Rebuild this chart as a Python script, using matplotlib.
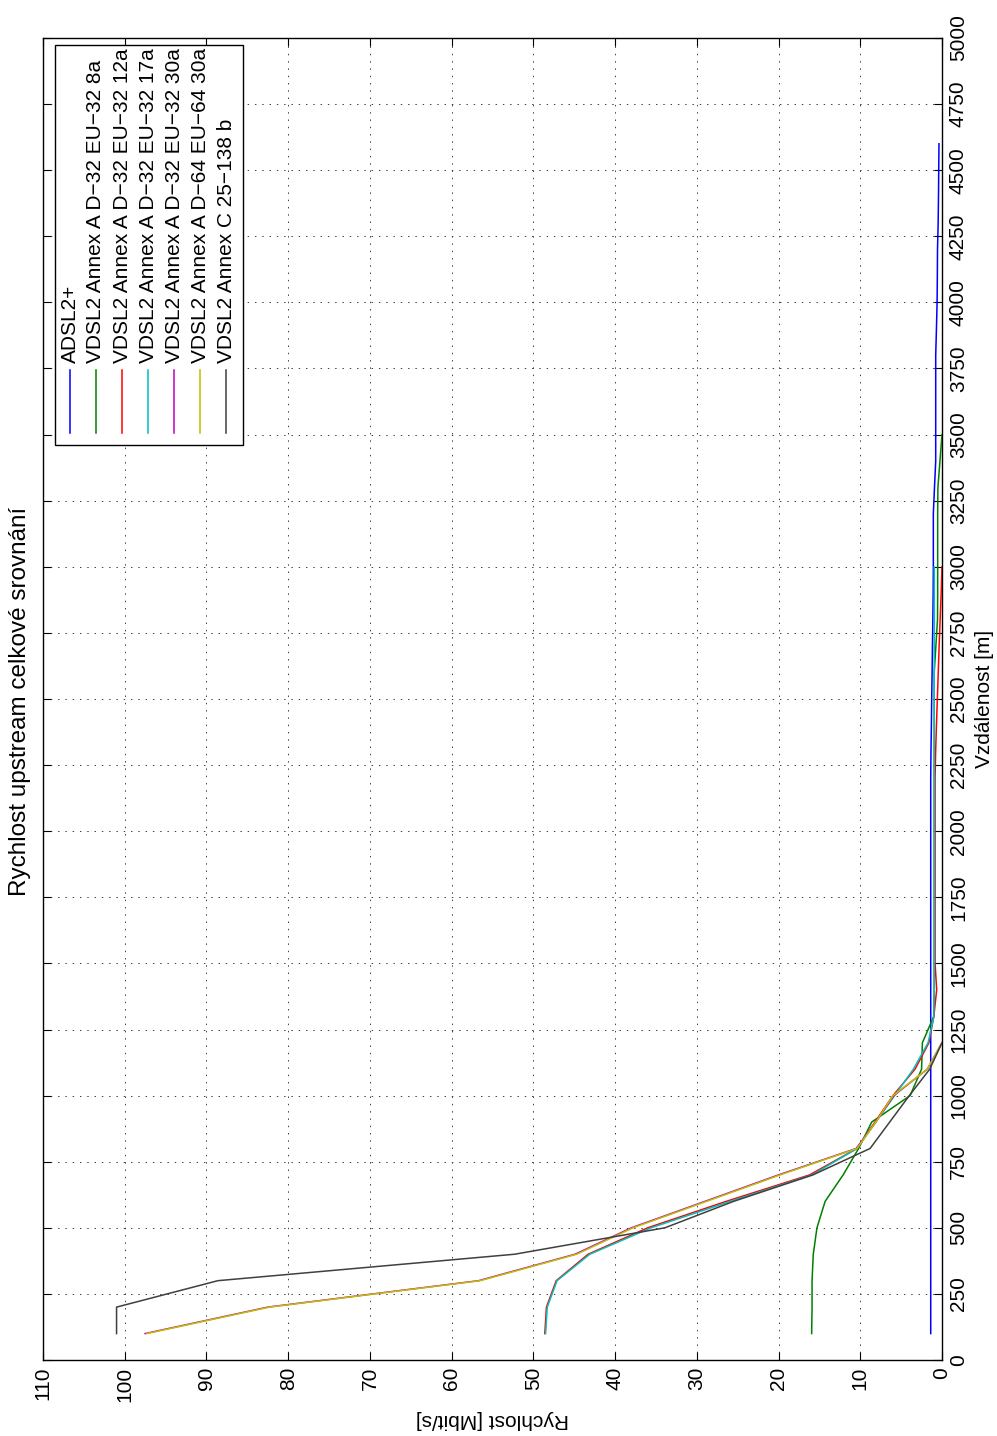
import matplotlib
matplotlib.use('Agg')
import matplotlib.pyplot as plt
from matplotlib.patches import Rectangle
from matplotlib.lines import Line2D

plt.rcParams['font.family'] = ['Liberation Sans', 'DejaVu Sans']

# distance of the measurement points [m]
distance = list(range(100, 4700, 100))

adsl2 = [1.38, 1.38, 1.38, 1.38, 1.38, 1.38, 1.38, 1.38, 1.38, 1.38, 1.38,
         1.38, 1.38, 1.38, 1.38, 1.38, 1.38, 1.38, 1.38, 1.38, 1.38, 1.38,
         1.35, 1.30, 1.26, 1.21, 1.17, 1.12, 1.08, 1.06, 1.06, 1.06, 0.92,
         0.77, 0.77, 0.77, 0.77, 0.77, 0.68, 0.60, 0.57, 0.55, 0.47, 0.43,
         0.40, 0.37]
vdsl_8a = [15.95, 15.9, 15.9, 15.75, 15.3, 14.3, 12.1, 10.2, 8.6, 3.9, 2.5,
           2.4, 1.0, 0.95, 0.95, 0.95, 0.95, 0.95, 0.95, 0.95, 0.95, 0.95,
           0.95, 0.95, 0.95, 0.95, 0.75, 0.55, 0.53, 0.53, 0.53, 0.53, 0.5,
           0.25, 0.0]
vdsl_12a = [48.6, 48.4, 47.2, 43.3, 36.0, 26.4, 16.2, 10.4, 8.2, 6.0, 3.3,
            1.6, 1.0, 0.65, 0.85, 0.85, 0.85, 0.85, 0.85, 0.85, 0.85, 0.85,
            0.78, 0.68, 0.57, 0.46, 0.35, 0.23, 0.1, 0.0]
vdsl_17a = [48.5, 48.3, 47.1, 43.1, 35.6, 25.9, 15.9, 10.4, 8.1, 5.8, 3.5,
            1.7, 1.0, 0.95, 0.95, 0.95, 0.95, 0.95, 0.95, 0.95, 0.95, 0.95,
            0.95, 0.95, 0.95, 0.95, 0.95, 0.95, 0.95, 0.95]
vdsl_30a = [97.5, 82.5, 56.7, 44.9, 38.0, 29.0, 20.0, 10.5, 8.1, 5.9, 1.8, 0.0]
vdsl_d64_30a = [97.3, 82.3, 56.5, 44.7, 37.8, 28.8, 19.8, 10.4, 8.1, 6.0, 1.8, 0.0]
vdsl_c = [101.0, 101.0, 88.6, 52.3, 33.9, 25.5, 15.8, 8.8, 6.4, 4.0, 1.5, 0.0]

labels = ['ADSL2+',
          'VDSL2 Annex A D\u221232 EU\u221232 8a',
          'VDSL2 Annex A D\u221232 EU\u221232 12a',
          'VDSL2 Annex A D\u221232 EU\u221232 17a',
          'VDSL2 Annex A D\u221232 EU\u221232 30a',
          'VDSL2 Annex A D\u221264 EU\u221264 30a',
          'VDSL2 Annex C 25\u2212138 b']
colors = ['#0000ff', '#008000', '#ff0000', '#00bfbf', '#bf00bf', '#bfbf00',
          '#404040']
series = [adsl2, vdsl_8a, vdsl_12a, vdsl_17a, vdsl_30a, vdsl_d64_30a, vdsl_c]

W, H = 997, 1436
fig = plt.figure(figsize=(W / 100, H / 100), dpi=100)
ax = fig.add_axes([43 / W, 1 - 1360 / H, 899 / W, 1322 / H])


def fxy(px, py):
    # pixel position (from top-left) -> figure fraction
    return px / W, 1 - py / H


# the plot is turned on its side: speed runs right-to-left, distance upward
for vals, col in zip(series, colors):
    ax.plot(vals, distance[:len(vals)], color=col, lw=1.1, zorder=3)

ax.set_xlim(110, 0)
ax.set_ylim(0, 5000)
ax.set_xticks(range(0, 111, 10))
ax.set_yticks(range(0, 5001, 250))
ax.grid(True, color='0.25', linestyle=(0, (1.5, 6)), linewidth=0.7)
ax.tick_params(direction='in', top=True, right=True, length=6, width=0.8,
               labelsize=15)
ax.tick_params(axis='x', labelrotation=90, pad=5)
ax.tick_params(axis='y', labelleft=False, labelright=True, labelrotation=90,
               pad=5)
plt.setp(ax.get_yticklabels(), va='center')
for sp in ax.spines.values():
    sp.set_linewidth(1.0)

ax.set_xlabel('Rychlost [Mbit/s]', fontsize=15, rotation=180, va='center',
              ha='center')
ax.xaxis.set_label_coords(0.5, (1360 - 1420) / 1322)
ax.yaxis.set_label_position('right')
ax.set_ylabel('Vzdálenost [m]', fontsize=15, rotation=90, va='center',
              ha='center')
ax.yaxis.set_label_coords((984 - 43) / 899, 0.5)

fig.text(*fxy(20, 701), 'Rychlost upstream celkové srovnání', rotation=90,
         fontsize=17.5, ha='center', va='center')

# legend box, entries stacked left to right with rotated text
x0, y0 = fxy(55, 445)
fig.add_artist(Rectangle((x0, y0), 188 / W, 400 / H, transform=fig.transFigure,
                         facecolor='white', edgecolor='black', lw=1.0,
                         zorder=5))
for i, (lab, col) in enumerate(zip(labels, colors)):
    lx = 70 + 26 * i
    xa, ya = fxy(lx, 433)
    xb, yb = fxy(lx, 370)
    fig.add_artist(Line2D([xa, xb], [ya, yb], transform=fig.transFigure,
                          color=col, lw=1.1, zorder=6))
    fig.text(*fxy(lx, 363), lab, rotation=90, fontsize=15, ha='center',
             va='bottom', zorder=6)

fig.savefig('out.png', dpi=100)
